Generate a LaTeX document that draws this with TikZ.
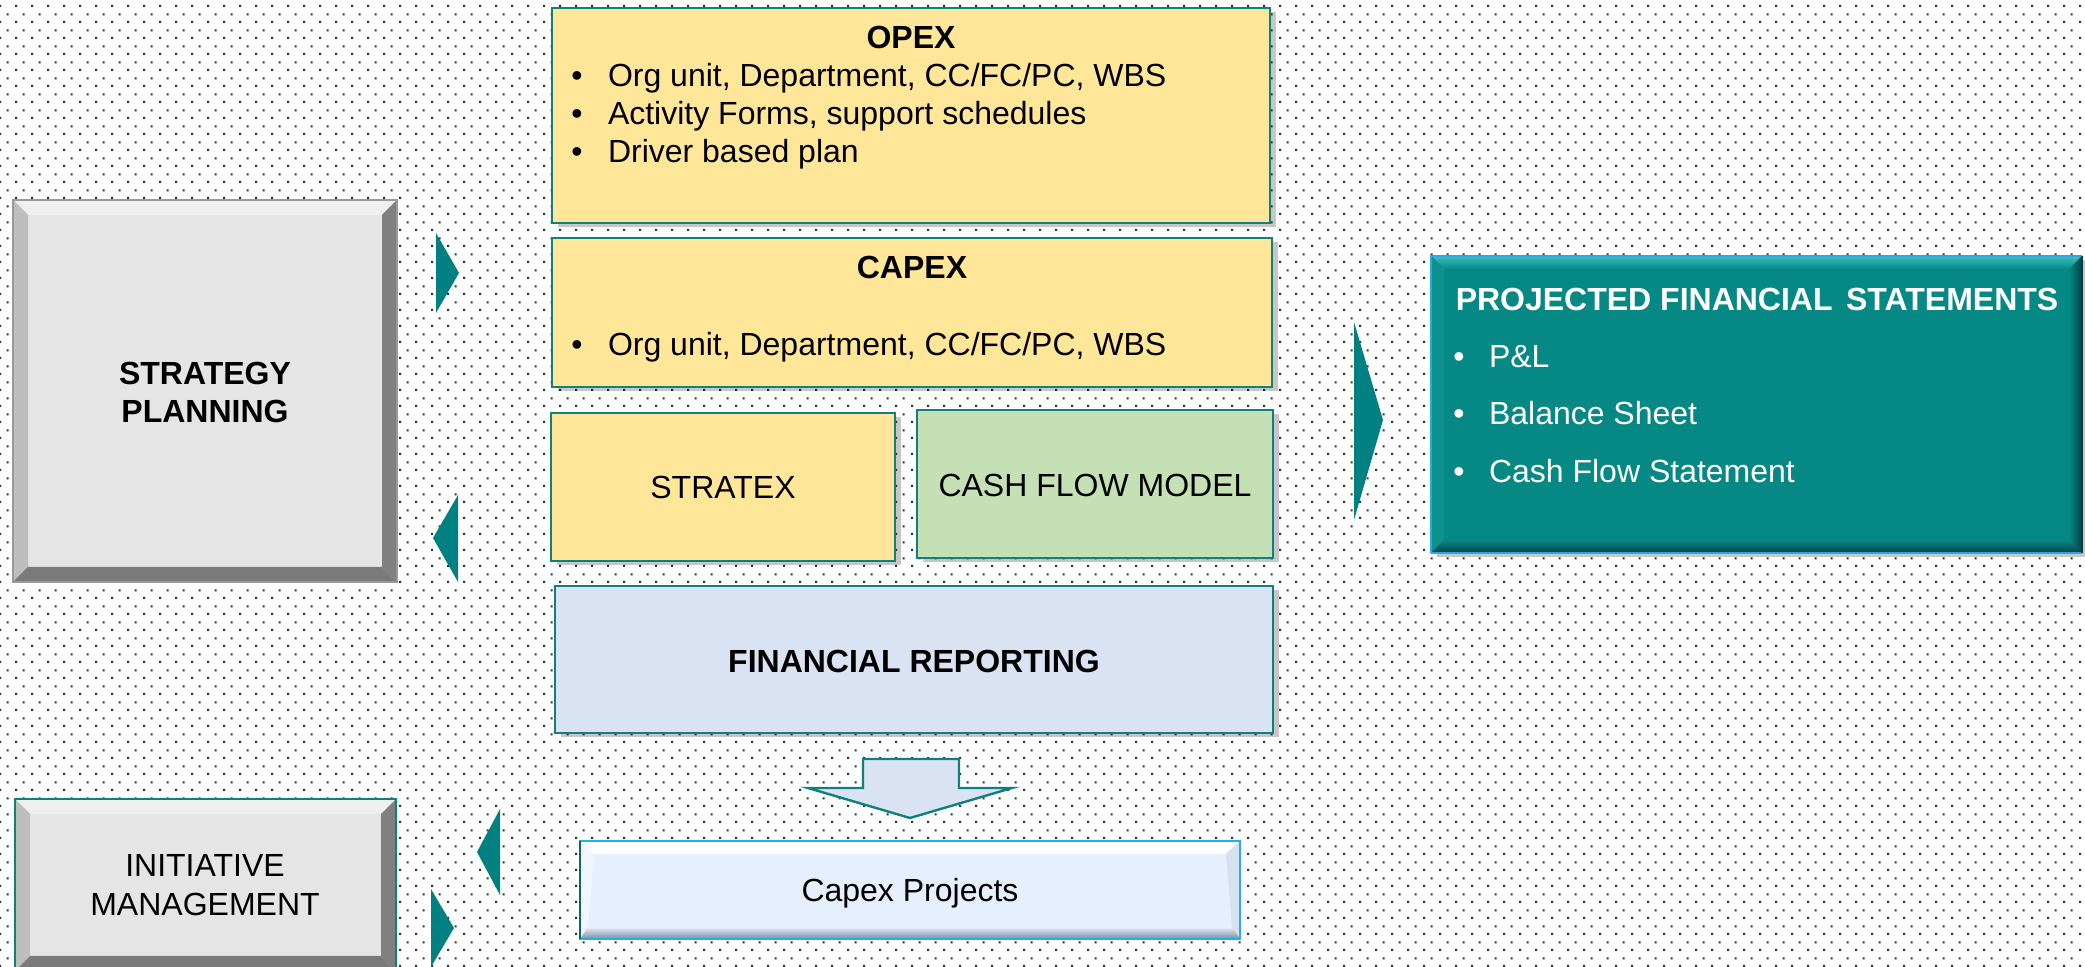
\documentclass[tikz,border=0pt]{standalone}
\usepackage{fontspec}
\setmainfont{Liberation Sans}
\usetikzlibrary{calc,shadows,patterns.meta}
\definecolor{tealA}{HTML}{008080}
\definecolor{tealB}{HTML}{10807E}
\definecolor{yel}{HTML}{FFE699}
\definecolor{grn}{HTML}{C5E0B4}
\definecolor{blu}{HTML}{DAE3F3}
\definecolor{cpC}{HTML}{E6EFFD}
\definecolor{cpDark}{HTML}{7D8B9C}
\definecolor{cpBorder}{HTML}{1FB2E8}
\definecolor{dotc}{HTML}{2A3039}
\definecolor{bevT}{HTML}{EFEFEF}
\definecolor{bevL}{HTML}{BEBEBE}
\definecolor{bevR}{HTML}{808080}
\definecolor{bevB}{HTML}{7A7A7A}
\definecolor{bevC}{HTML}{E5E5E5}
\definecolor{pfsC}{HTML}{068985}
\definecolor{pfsTop}{HTML}{3CBFBA}
\definecolor{pfsDark}{HTML}{053F44}
\definecolor{pfsBorder}{HTML}{2AA8DF}
\tikzdeclarepattern{
  name=pptdots,
  type=uncolored,
  bounding box={(0pt,0pt) and (8pt,8pt)},
  tile size={(8pt,8pt)},
  code={
    \pgfpathrectangle{\pgfpoint{0pt}{0pt}}{\pgfpoint{1.1pt}{1.1pt}}
    \pgfpathrectangle{\pgfpoint{4pt}{4pt}}{\pgfpoint{1.1pt}{1.1pt}}
    \pgfusepath{fill}
  }
}
\newcommand\fsz{\fontsize{16}{19}\selectfont}
\newcommand\mybevel[6]{%
  \fill[#3] (#1.north west) -- (#1.north east) -- ($(#1.north east)+(-#2,#2)$) -- ($(#1.north west)+(#2,#2)$) -- cycle;
  \fill[#4] (#1.north west) -- ($(#1.north west)+(#2,#2)$) -- ($(#1.south west)+(#2,-#2)$) -- (#1.south west) -- cycle;
  \fill[#5] (#1.north east) -- ($(#1.north east)+(-#2,#2)$) -- ($(#1.south east)+(-#2,-#2)$) -- (#1.south east) -- cycle;
  \fill[#6] (#1.south west) -- ($(#1.south west)+(#2,-#2)$) -- ($(#1.south east)+(-#2,-#2)$) -- (#1.south east) -- cycle;
}
\tikzset{
  shadowed/.style={drop shadow={shadow xshift=3pt, shadow yshift=-2pt, opacity=0.22, fill=black}},
  plainbox/.style={rectangle, inner sep=0pt, outer sep=0pt},
  cbox/.style={plainbox, draw=tealB, line width=1pt, shadowed},
  tx/.style={font=\fsz, text=black, inner sep=0pt, outer sep=0pt},
  tb/.style={tx, font=\fsz\bfseries},
  tri/.style={fill=tealA},
}
\begin{document}
\begin{tikzpicture}[x=0.5pt,y=-0.5pt]
\useasboundingbox (0,0) rectangle (2085,967);
\fill[white] (0,0) rectangle (2085,967);
\fill[pattern=pptdots, pattern color=dotc] (0,0) rectangle (2085,967);

% ---------- middle column boxes ----------
\node[cbox, fill=yel, minimum width=359pt, minimum height=107.5pt] (opex) at (911,115.5) {};
\node[tb, anchor=base] (opexT) at (911,49) {OPEX};
\node[tx, anchor=base] (ob1) at (577,87) {\textbullet};
\node[tx, anchor=base west] (o1) at (608,87) {Org unit, Department, CC/FC/PC, WBS};
\node[tx, anchor=base] (ob2) at (577,125) {\textbullet};
\node[tx, anchor=base west] (o2) at (608,125) {Activity Forms, support schedules};
\node[tx, anchor=base] (ob3) at (577,163) {\textbullet};
\node[tx, anchor=base west] (o3) at (608,163) {Driver based plan};

\node[cbox, fill=yel, minimum width=360pt, minimum height=74.5pt] (capex) at (912,312.5) {};
\node[tb, anchor=base] (capexT) at (912,279) {CAPEX};
\node[tx, anchor=base] (cb1) at (577,356) {\textbullet};
\node[tx, anchor=base west] (c1) at (608,356) {Org unit, Department, CC/FC/PC, WBS};

\node[cbox, fill=yel, minimum width=172pt, minimum height=74pt] (stratex) at (723,487) {};
\node[tx, anchor=base] (stratexT) at (723,499) {STRATEX};
\node[cbox, fill=grn, minimum width=178pt, minimum height=74pt] (cfm) at (1095,484) {};
\node[tx, anchor=base] (cfmT) at (1095,497) {CASH FLOW MODEL};

\node[cbox, fill=blu, minimum width=359pt, minimum height=73.5pt] (finrep) at (914,659.5) {};
\node[tb, anchor=base] (finrepT) at (914,673) {FINANCIAL REPORTING};

% down arrow
\draw[tealB, line width=1.2pt, fill=blu, line join=miter]
  (863,759) -- (959,759) -- (959,788) -- (1012,788) -- (910,818) -- (808,788) -- (863,788) -- cycle;

% capex projects
\node[plainbox, fill=cpC, minimum width=330pt, minimum height=49pt] (cproj) at (910,890) {};
\fill[white] (cproj.north west) -- (cproj.north east) -- ($(cproj.north east)+(-14,13)$) -- ($(cproj.north west)+(14,13)$) -- cycle;
\fill[cpC!60!white] (cproj.north west) -- ($(cproj.north west)+(14,13)$) -- ($(cproj.south west)+(8,-12)$) -- (cproj.south west) -- cycle;
\fill[cpC!85!cpDark] (cproj.north east) -- ($(cproj.north east)+(-14,13)$) -- ($(cproj.south east)+(-8,-12)$) -- (cproj.south east) -- cycle;
\shade[top color=cpC, bottom color=cpDark] (cproj.south west) -- ($(cproj.south west)+(8,-12)$) -- ($(cproj.south east)+(-8,-12)$) -- (cproj.south east) -- cycle;
\draw[cpBorder, line width=1.2pt] (cproj.north west) rectangle (cproj.south east);
\draw[tealB!80!black, line width=1.2pt] (cproj.north west) -- (cproj.south west);
\node[tx, anchor=base] (cprojT) at (910,901) {Capex Projects};

% ---------- left boxes ----------
\node[plainbox, fill=bevC, minimum width=192pt, minimum height=191pt] (strat) at (205,391) {};
\mybevel{strat}{15}{bevT}{bevL}{bevR}{bevB}
\draw[black!40, line width=0.8pt] (strat.north west) rectangle (strat.south east);
\node[tb, anchor=base] (stratT1) at (205,385) {STRATEGY};
\node[tb, anchor=base] (stratT2) at (205,423) {PLANNING};

\node[plainbox, fill=bevC, minimum width=190.5pt, minimum height=86pt] (init) at (205.5,885) {};
\mybevel{init}{15}{bevT}{bevL}{bevR}{bevB}
\draw[tealB, line width=1pt] (init.north west) rectangle (init.south east);
\node[tx, anchor=base] (initT1) at (205,877) {INITIATIVE};
\node[tx, anchor=base] (initT2) at (205,916) {MANAGEMENT};

% ---------- projected financial statements ----------
\node[plainbox, fill=pfsC, minimum width=325.5pt, minimum height=148.5pt, shadowed] (pfs) at (1756.5,404.5) {};
\shade[top color=pfsTop, bottom color=pfsC] (pfs.north west) -- (pfs.north east) -- ($(pfs.north east)+(-13,13)$) -- ($(pfs.north west)+(13,13)$) -- cycle;
\fill[pfsC!85!pfsTop] (pfs.north west) -- ($(pfs.north west)+(13,13)$) -- ($(pfs.south west)+(13,-13)$) -- (pfs.south west) -- cycle;
\shade[left color=pfsC, right color=pfsDark] (pfs.north east) -- ($(pfs.north east)+(-13,13)$) -- ($(pfs.south east)+(-13,-13)$) -- (pfs.south east) -- cycle;
\shade[top color=pfsC, bottom color=pfsDark] (pfs.south west) -- ($(pfs.south west)+(13,-13)$) -- ($(pfs.south east)+(-13,-13)$) -- (pfs.south east) -- cycle;
\draw[pfsBorder, line width=1.2pt] (pfs.south west) -- (pfs.north west) -- (pfs.north east);
\draw[pfsBorder, line width=1.2pt] (pfs.south west) -- (pfs.south east);
\draw[pfsDark, line width=1.2pt] (pfs.north east) -- (pfs.south east);
\node[tb, text=white, anchor=base] (pfsT) at (1757,311) {PROJECTED FINANCIAL\hspace{0.42em}STATEMENTS};
\node[tx, text=white, anchor=base] (pb1) at (1459,368) {\textbullet};
\node[tx, text=white, anchor=base west] (p1) at (1489,368) {P\&L};
\node[tx, text=white, anchor=base] (pb2) at (1459,425) {\textbullet};
\node[tx, text=white, anchor=base west] (p2) at (1489,425) {Balance Sheet};
\node[tx, text=white, anchor=base] (pb3) at (1459,483) {\textbullet};
\node[tx, text=white, anchor=base west] (p3) at (1489,483) {Cash Flow Statement};

% ---------- teal triangles ----------
\fill[tri] (436,233) -- (459,273) -- (436,313) -- cycle;
\fill[tri] (458,495) -- (433,538) -- (458,582) -- cycle;
\fill[tri] (1354,322) -- (1383,420) -- (1354,520) -- cycle;
\fill[tri] (500,809) -- (477,852) -- (500,895) -- cycle;
\fill[tri] (431,889) -- (454,928) -- (431,967) -- cycle;
\end{tikzpicture}
\end{document}
